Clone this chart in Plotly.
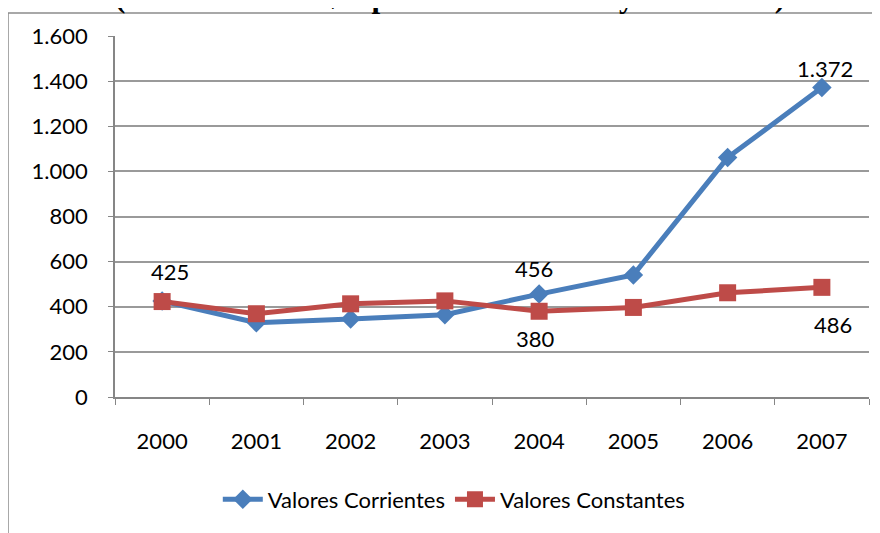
import plotly.graph_objects as go

years = ["2000", "2001", "2002", "2003", "2004", "2005", "2006", "2007"]
corrientes = [425, 329, 346, 365, 456, 541, 1061, 1372]
constantes = [423, 369, 413, 426, 380, 397, 462, 486]
# data labels shown in the picture: (year index, text)
labels_corr = [(0, "425"), (4, "456"), (7, "1.372")]
labels_cons = [(4, "380"), (7, "486")]
y_ticks = [0, 200, 400, 600, 800, 1000, 1200, 1400, 1600]
y_tick_text = ["0", "200", "400", "600", "800", "1.000", "1.200", "1.400", "1.600"]
title_text = "(Millones de US$ a precios constantes y corrientes)"

BLUE = "#4A7EBB"
RED = "#BE4B48"
FONT = "Lato"
FS = 22

fig = go.Figure()
fig.add_trace(go.Scatter(
    x=years, y=corrientes, name="Valores Corrientes", mode="lines+markers",
    line=dict(color=BLUE, width=5),
    marker=dict(symbol="diamond", size=15, color=BLUE),
    cliponaxis=False,
))
fig.add_trace(go.Scatter(
    x=years, y=constantes, name="Valores Constantes", mode="lines+markers",
    line=dict(color=RED, width=5),
    marker=dict(symbol="square", size=17, color=RED),
    cliponaxis=False,
))

# label offsets (pixels) as placed in the original chart
corr_shift = {0: (8, 30), 4: (-5, 26), 7: (3, 19)}
cons_shift = {4: (-4, -27), 7: (11, -37)}

annotations = []
for i, t in labels_corr:
    dx, dy = corr_shift[i]
    annotations.append(dict(x=i, y=corrientes[i], xref="x", yref="y", text=t, showarrow=False,
                            xshift=dx, yshift=dy, xanchor="center", yanchor="middle",
                            font=dict(family=FONT, size=FS, color="#000000")))
for i, t in labels_cons:
    dx, dy = cons_shift[i]
    annotations.append(dict(x=i, y=constantes[i], xref="x", yref="y", text=t, showarrow=False,
                            xshift=dx, yshift=dy, xanchor="center", yanchor="middle",
                            font=dict(family=FONT, size=FS, color="#000000")))
annotations.append(dict(text="<b>" + title_text + "</b>", xref="paper", yref="paper",
                        x=0.444, y=1.056, xanchor="center", yanchor="bottom", showarrow=False,
                        font=dict(family="Liberation Serif", size=31, color="#000000")))

fig.update_layout(
    width=872, height=525,
    margin=dict(l=107, r=11, t=28, b=136, autoexpand=False),
    paper_bgcolor="#FFFFFF", plot_bgcolor="#FFFFFF",
    separators=",.",
    font=dict(family=FONT, size=FS, color="#000000"),
    showlegend=True,
    legend=dict(orientation="h", x=0.45, xanchor="center", y=-0.284, yanchor="middle",
                font=dict(family=FONT, size=FS), itemwidth=40, tracegroupgap=0,
                bgcolor="rgba(0,0,0,0)"),
    xaxis=dict(
        type="category", showgrid=False, showline=True, linecolor="#868686", linewidth=1.5,
        ticks="outside", ticklen=6, tickcolor="#868686", tickson="boundaries",
        tickfont=dict(family=FONT, size=FS), ticklabelstandoff=24,
        range=[-0.5, 7.5], fixedrange=True, automargin=False,
    ),
    yaxis=dict(
        range=[0, 1600], tickvals=y_ticks, ticktext=y_tick_text,
        showgrid=True, gridcolor="#9A9A9A", gridwidth=1.5,
        showline=True, linecolor="#868686", linewidth=1.5,
        ticks="outside", ticklen=5, tickcolor="#868686",
        tickfont=dict(family=FONT, size=FS), ticklabelstandoff=16,
        zeroline=False, fixedrange=True, automargin=False,
    ),
    shapes=[dict(type="rect", xref="paper", yref="paper",
                 x0=-0.1419, x1=1.2, y0=-0.6, y1=1.0637,
                 line=dict(color="#8C8C8C", width=1.5), fillcolor="rgba(0,0,0,0)", layer="below")],
    annotations=annotations,
)

fig.write_html("out.html")
